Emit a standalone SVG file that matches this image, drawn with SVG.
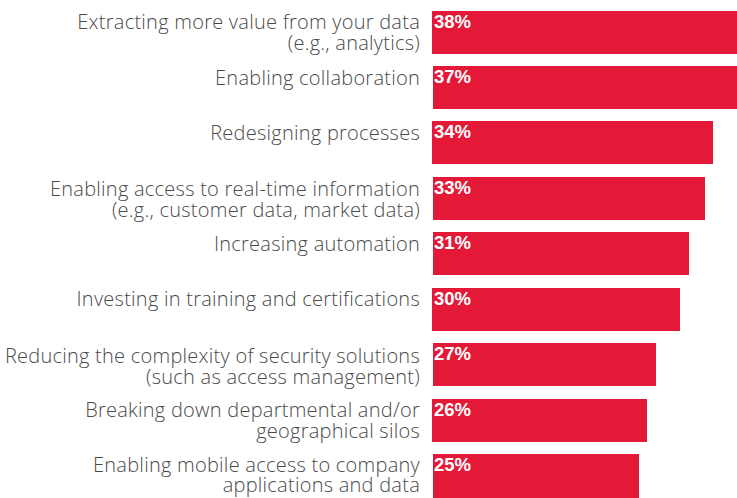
<svg xmlns="http://www.w3.org/2000/svg" width="737" height="498" viewBox="0 0 737 498">
<style>
.bar{fill:#E31937}
.lbl{font-family:"Open Sans","Liberation Sans",Arial,sans-serif;font-size:20px;font-weight:300;letter-spacing:0.25px;fill:#4a4a4a;text-anchor:end}
.pct{font-family:"Liberation Sans",Arial,sans-serif;font-size:18.5px;font-weight:bold;fill:#ffffff}
</style>
<rect width="737" height="498" fill="#ffffff"/>
<g id="row1"><text class="lbl" x="420" y="29">Extracting more value from your data</text><text class="lbl" x="420" y="50">(e.g., analytics)</text><rect class="bar" x="432" y="11" width="305" height="43"/><text class="pct" x="434" y="28">38%</text></g>
<g id="row2"><text class="lbl" x="420" y="85">Enabling collaboration</text><rect class="bar" x="433" y="66" width="304" height="43"/><text class="pct" x="434" y="83">37%</text></g>
<g id="row3"><text class="lbl" x="420" y="140">Redesigning processes</text><rect class="bar" x="432" y="121" width="281" height="43"/><text class="pct" x="434" y="138">34%</text></g>
<g id="row4"><text class="lbl" x="420" y="196">Enabling access to real-time information</text><text class="lbl" x="420" y="217">(e.g., customer data, market data)</text><rect class="bar" x="433" y="177" width="272" height="43"/><text class="pct" x="434" y="194">33%</text></g>
<g id="row5"><text class="lbl" x="420" y="251">Increasing automation</text><rect class="bar" x="433" y="232" width="256" height="43"/><text class="pct" x="434" y="249">31%</text></g>
<g id="row6"><text class="lbl" x="420" y="306">Investing in training and certifications</text><rect class="bar" x="432" y="288" width="248" height="43"/><text class="pct" x="434" y="305">30%</text></g>
<g id="row7"><text class="lbl" x="420" y="363">Reducing the complexity of security solutions</text><text class="lbl" x="420" y="384">(such as access management)</text><rect class="bar" x="433" y="343" width="223" height="43"/><text class="pct" x="434" y="360">27%</text></g>
<g id="row8"><text class="lbl" x="420" y="417">Breaking down departmental and/or</text><text class="lbl" x="420" y="438">geographical silos</text><rect class="bar" x="432" y="399" width="215" height="43"/><text class="pct" x="434" y="416">26%</text></g>
<g id="row9"><text class="lbl" x="420" y="472">Enabling mobile access to company</text><text class="lbl" x="420" y="492">applications and data</text><rect class="bar" x="433" y="454" width="206" height="44"/><text class="pct" x="434" y="471">25%</text></g>
</svg>
